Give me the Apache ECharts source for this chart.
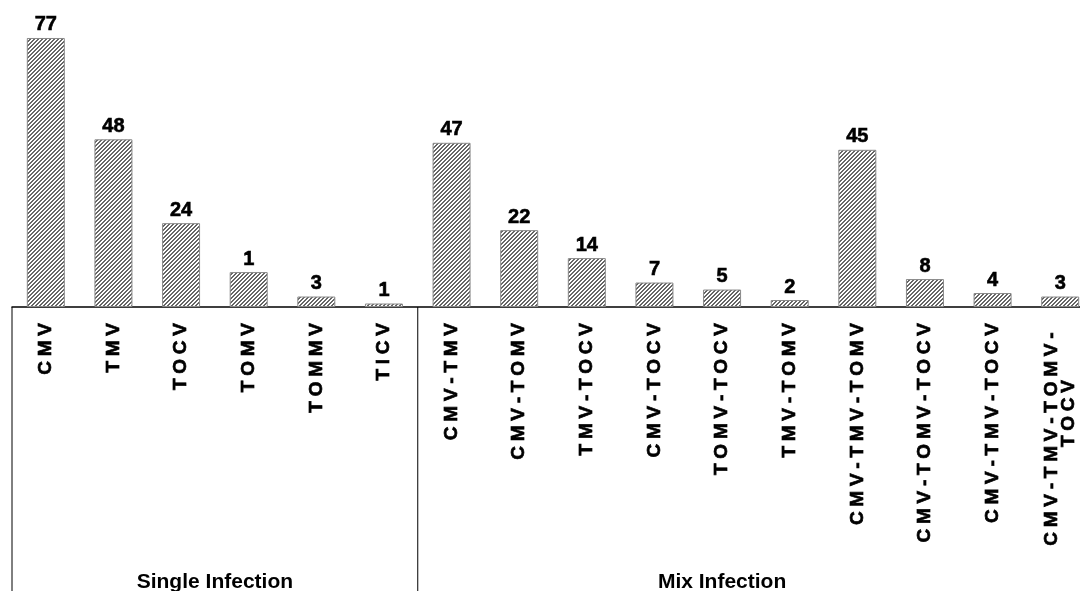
<!DOCTYPE html>
<html>
<head>
<meta charset="utf-8">
<script src="https://cdn.jsdelivr.net/npm/echarts@6/dist/echarts.min.js"></script>
<style>
  html, body { margin: 0; padding: 0; background: #fff; }
  #chart { width: 1080px; height: 591px; }
</style>
</head>
<body>
<div id="chart"></div>
<script>
// virus combinations found in the survey
const categories = ['CMV', 'TMV', 'TOCV', 'TOMV', 'TOMMV', 'TICV',
  'CMV-TMV', 'CMV-TOMV', 'TMV-TOCV', 'CMV-TOCV', 'TOMV-TOCV', 'TMV-TOMV',
  'CMV-TMV-TOMV', 'CMV-TOMV-TOCV', 'CMV-TMV-TOCV', 'CMV-TMV-TOMV-TOCV']
// bar heights as drawn, and the numbers printed above them
const barValues = [77, 48, 24, 10, 3, 1, 47, 22, 14, 7, 5, 2, 45, 8, 4, 3]
const barLabels = ['77', '48', '24', '1', '3', '1', '47', '22', '14', '7', '5', '2', '45', '8', '4', '3']
const groupNames = ['Single Infection', 'Mix Infection']
const groupSizes = [6, 10]

const FONT = 'Arial, "Liberation Sans", sans-serif'

// hatch fill ////
const tile = document.createElement('canvas')
tile.width = 4
tile.height = 4
const tctx = tile.getContext('2d')
tctx.fillStyle = '#ffffff'
tctx.fillRect(0, 0, 4, 4)
tctx.fillStyle = '#666666'
for (let x = 0; x < 4; x++) {
  for (let y = 0; y < 4; y++) {
    if ((x + y) % 4 < 2) tctx.fillRect(x, y, 1, 1)
  }
}

function spaced(s) {
  return s.split('').join('\u2005')
}

const myChart = echarts.init(document.getElementById('chart'))
myChart.setOption({
  animation: false,
  grid: { left: 12, top: 27.5, width: 1082, height: 279.5, outerBoundsMode: 'none', containLabel: false },
  xAxis: {
    type: 'category',
    data: categories,
    axisLine: { lineStyle: { color: '#000', width: 1.5 } },
    axisTick: { show: false },
    axisLabel: {
      interval: 0,
      rotate: 90,
      margin: 16,
      color: '#000',
      fontFamily: FONT,
      fontWeight: 'bold',
      fontSize: 19,
      lineHeight: 17,
      textBorderColor: '#000',
      textBorderWidth: 0.7,
      formatter: function (v) {
        if (v.length > 14) {
          // long name wraps, second line sits a little lower like the original
          const cut = v.lastIndexOf('-') + 1
          return spaced(v.slice(0, cut)) + '\u2002\n' + spaced(v.slice(cut)) + '\u2002\u2002\u2002\u2002\u2002\u2002'
        }
        return spaced(v)
      }
    }
  },
  yAxis: {
    type: 'value',
    min: 0,
    max: 80,
    show: false,
    splitLine: { show: false }
  },
  series: [{
    type: 'bar',
    data: barValues,
    barWidth: 38,
    itemStyle: {
      color: { image: tile, repeat: 'repeat' },
      borderColor: '#8a8a8a',
      borderWidth: 1
    },
    label: {
      show: true,
      position: 'top',
      distance: 3,
      color: '#000',
      fontFamily: FONT,
      fontWeight: 'bold',
      fontSize: 20,
      textBorderColor: '#000',
      textBorderWidth: 0.6,
      formatter: function (p) { return barLabels[p.dataIndex] }
    }
  }]
})

// group dividers and names below the category labels
function drawGroups() {
  const c0 = myChart.convertToPixel({ xAxisIndex: 0 }, 0)
  const c1 = myChart.convertToPixel({ xAxisIndex: 0 }, 1)
  const band = c1 - c0
  const baseY = myChart.convertToPixel({ yAxisIndex: 0 }, 0)
  const elements = []
  let start = 0
  groupNames.forEach(function (name, i) {
    const left = c0 - band / 2 + start * band
    elements.push({
      type: 'line',
      shape: { x1: left, y1: baseY, x2: left, y2: 600 },
      style: { stroke: '#000', lineWidth: 1 }
    })
    // single: middle of the group; mix: under the 5th bar of the group
    const at = i === 0 ? start + groupSizes[i] / 2 - 0.5 : start + 4
    elements.push({
      type: 'text',
      x: c0 + at * band,
      y: 572,
      style: {
        text: name,
        fill: '#000',
        font: 'bold 21px ' + FONT,
        textAlign: 'center',
        textVerticalAlign: 'top'
      }
    })
    start += groupSizes[i]
  })
  myChart.setOption({ graphic: elements })
}
drawGroups()
</script>
</body>
</html>
